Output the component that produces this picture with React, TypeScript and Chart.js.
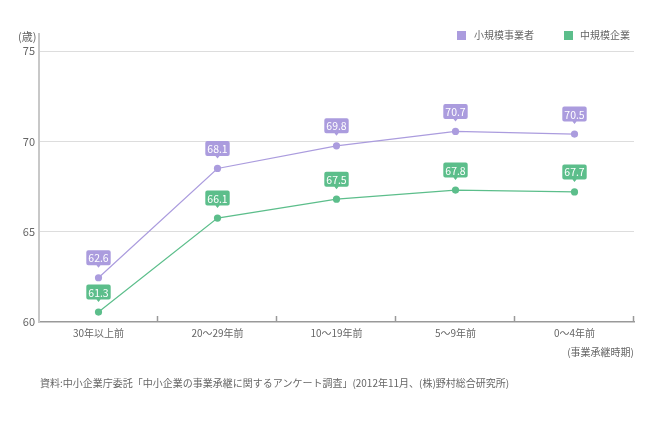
import React, { useEffect, useRef } from "react";
import { Chart, registerables } from "chart.js";

Chart.register(...registerables);

const categories = ["30年以上前", "20～29年前", "10～19年前", "5～9年前", "0～4年前"];
const seriesNames = ["小規模事業者", "中規模企業"];
// plotted positions
const smallValues = [62.45, 68.5, 69.75, 70.55, 70.4];
const mediumValues = [60.55, 65.75, 66.8, 67.3, 67.2];
// values printed in the labels
const smallLabels = ["62.6", "68.1", "69.8", "70.7", "70.5"];
const mediumLabels = ["61.3", "66.1", "67.5", "67.8", "67.7"];
const yTicks = [60, 65, 70, 75];

const PURPLE = "#ab9cde";
const GREEN = "#5cbe8b";
const FONT = "'Noto Sans CJK JP', 'Noto Sans', sans-serif";

const labelPlugin = {
  id: "valueBoxes",
  afterDatasetsDraw(chart: any) {
    const ctx = chart.ctx;
    const lists = [smallLabels, mediumLabels];
    const colors = [PURPLE, GREEN];
    chart.data.datasets.forEach((_: any, di: number) => {
      const meta = chart.getDatasetMeta(di);
      meta.data.forEach((pt: any, i: number) => {
        const text = lists[di][i];
        ctx.save();
        ctx.font = `10.5px ${FONT}`;
        const tw = ctx.measureText(text).width;
        const w = tw + 4;
        const h = 15;
        const bottom = pt.y - 12.5;
        const left = pt.x - w / 2;
        ctx.fillStyle = colors[di];
        ctx.beginPath();
        const r = 2;
        ctx.moveTo(left + r, bottom - h);
        ctx.lineTo(left + w - r, bottom - h);
        ctx.quadraticCurveTo(left + w, bottom - h, left + w, bottom - h + r);
        ctx.lineTo(left + w, bottom - r);
        ctx.quadraticCurveTo(left + w, bottom, left + w - r, bottom);
        ctx.lineTo(pt.x + 2, bottom);
        ctx.lineTo(pt.x, bottom + 2.5);
        ctx.lineTo(pt.x - 2, bottom);
        ctx.lineTo(left + r, bottom);
        ctx.quadraticCurveTo(left, bottom, left, bottom - r);
        ctx.lineTo(left, bottom - h + r);
        ctx.quadraticCurveTo(left, bottom - h, left + r, bottom - h);
        ctx.closePath();
        ctx.fill();
        ctx.fillStyle = "#ffffff";
        ctx.textAlign = "center";
        ctx.textBaseline = "middle";
        ctx.fillText(text, pt.x, bottom - h / 2 + 0.5);
        ctx.restore();
      });
    });
  },
  afterDraw(chart: any) {
    const ctx = chart.ctx;
    const { left, right, top, bottom } = chart.chartArea;
    ctx.save();
    // extend y axis line above the top tick
    ctx.strokeStyle = "#c8c8c8";
    ctx.lineWidth = 2;
    ctx.beginPath();
    ctx.moveTo(left, top - 18);
    ctx.lineTo(left, top);
    ctx.stroke();
    // x-axis tick marks between categories
    ctx.strokeStyle = "#999";
    ctx.lineWidth = 1.5;
    const n = chart.data.labels.length;
    const step = (right - left) / n;
    for (let i = 1; i <= n; i++) {
      const x = Math.round(left + step * i) - 0.5;
      ctx.beginPath();
      ctx.moveTo(x, bottom);
      ctx.lineTo(x, bottom - 6);
      ctx.stroke();
    }
    ctx.restore();
  },
};

export default function App() {
  const ref = useRef<HTMLCanvasElement | null>(null);
  useEffect(() => {
    if (!ref.current) return;
    Chart.defaults.font.family = FONT;
    const chart = new Chart(ref.current, {
      type: "line",
      data: {
        labels: categories,
        datasets: [
          {
            label: seriesNames[0],
            data: smallValues,
            borderColor: PURPLE,
            backgroundColor: PURPLE,
            borderWidth: 1.2,
            pointRadius: 3.6,
            pointBorderWidth: 0,
            tension: 0,
          },
          {
            label: seriesNames[1],
            data: mediumValues,
            borderColor: GREEN,
            backgroundColor: GREEN,
            borderWidth: 1.2,
            pointRadius: 3.6,
            pointBorderWidth: 0,
            tension: 0,
          },
        ],
      },
      options: {
        responsive: false,
        animation: false,
        layout: { padding: { top: 51, right: 27, left: 0, bottom: 0 } },
        plugins: { legend: { display: false }, tooltip: { enabled: false } },
        scales: {
          x: {
            offset: true,
            grid: { display: false, drawTicks: false },
            border: { color: "#999", width: 1.5 },
            ticks: { color: "#666", font: { size: 10 }, padding: 5, maxRotation: 0, autoSkip: false },
            afterFit: (s: any) => {
              s.height = 430 - 322;
            },
          },
          y: {
            min: yTicks[0],
            max: yTicks[yTicks.length - 1],
            ticks: { stepSize: 5, color: "#666", font: { size: 11 }, padding: 4 },
            grid: {
              color: (c: any) => (c.tick && c.tick.value === yTicks[0] ? "rgba(0,0,0,0)" : "#dddddd"),
              drawTicks: false,
            },
            border: { color: "#c8c8c8", width: 2 },
            afterFit: (s: any) => {
              s.width = 39;
            },
          },
        },
      },
      plugins: [labelPlugin],
    });
    return () => chart.destroy();
  }, []);

  const txt: React.CSSProperties = {
    position: "absolute",
    fontFamily: FONT,
    color: "#666",
    fontSize: 10,
    lineHeight: "12px",
    whiteSpace: "nowrap",
  };

  return (
    <div style={{ position: "fixed", left: 0, top: 0, width: 661, height: 430, background: "#fff" }}>
      <canvas ref={ref} width={661} height={430} style={{ position: "absolute", left: 0, top: 0 }} />
      <div style={{ ...txt, left: 18, top: 30, fontSize: 11 }}>(歳)</div>
      <div style={{ position: "absolute", left: 457, top: 31, width: 9, height: 9, background: PURPLE }} />
      <div style={{ ...txt, left: 474, top: 29 }}>{seriesNames[0]}</div>
      <div style={{ position: "absolute", left: 564, top: 31, width: 9, height: 9, background: GREEN }} />
      <div style={{ ...txt, left: 580, top: 29 }}>{seriesNames[1]}</div>
      <div style={{ ...txt, right: 661 - 634, top: 346 }}>(事業承継時期)</div>
      <div style={{ ...txt, left: 40, top: 377 }}>
        資料:中小企業庁委託「中小企業の事業承継に関するアンケート調査」(2012年11月、(株)野村総合研究所)
      </div>
    </div>
  );
}
